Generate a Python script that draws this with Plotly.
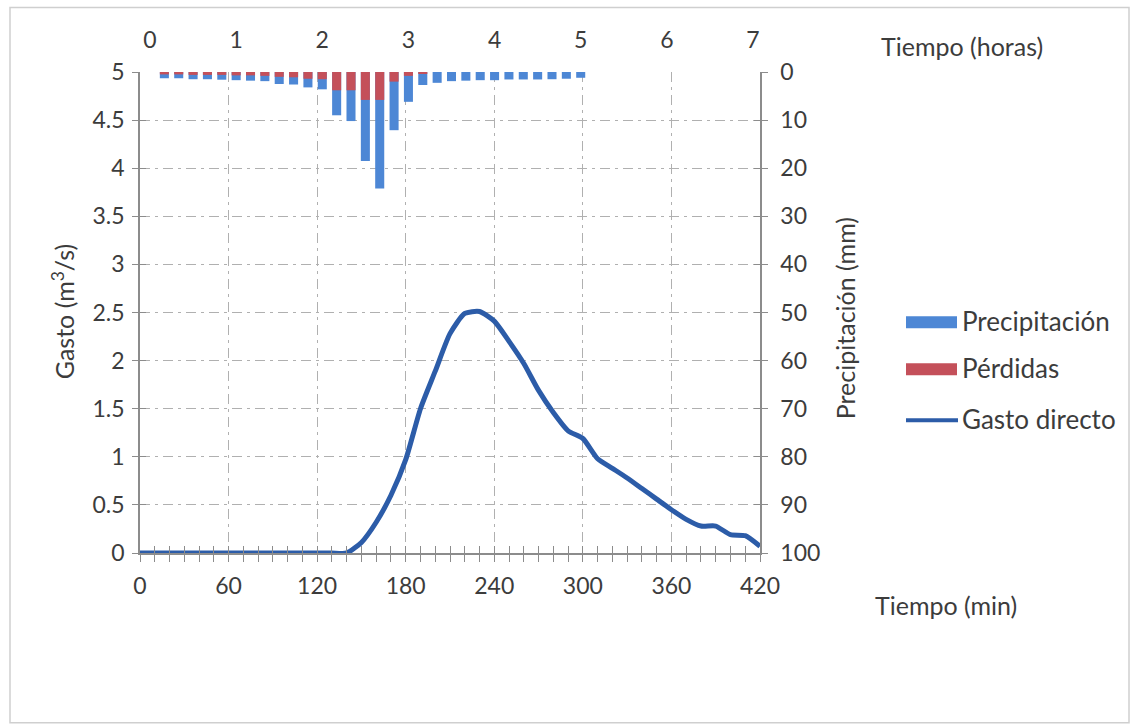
import plotly.graph_objects as go

# ---------------- data ----------------
bar_time_min = [10, 20, 30, 40, 50, 60, 70, 80, 90, 100, 110, 120, 130, 140, 150,
                160, 170, 180, 190, 200, 210, 220, 230, 240, 250, 260, 270, 280, 290, 300]
precipitacion_mm = [1.3, 1.3, 1.5, 1.5, 1.6, 1.7, 1.8, 1.9, 2.5, 2.6, 3.2, 3.6, 9.0, 10.2, 18.5,
                    24.2, 12.1, 6.2, 2.7, 2.25, 1.9, 1.8, 1.7, 1.7, 1.55, 1.55, 1.55, 1.5, 1.4, 1.2]
perdidas_mm = [0.5, 0.5, 0.6, 0.6, 0.6, 0.7, 0.7, 0.8, 1.0, 1.1, 1.4, 1.5, 3.8, 3.8, 5.8,
               5.8, 2.0, 0.8, 0.3, 0, 0, 0, 0, 0, 0, 0, 0, 0, 0, 0]

gasto_time_min = [0, 10, 20, 30, 40, 50, 60, 70, 80, 90, 100, 110, 120, 130, 140,
                  150, 160, 170, 180, 190, 200, 210, 220, 230, 240, 250, 260, 270, 280,
                  290, 300, 310, 320, 330, 340, 350, 360, 370, 380, 390, 400, 410, 420]
gasto_m3s = [0, 0, 0, 0, 0, 0, 0, 0, 0, 0, 0, 0, 0, 0, 0,
             0.11, 0.32, 0.60, 0.97, 1.50, 1.89, 2.28, 2.49, 2.51, 2.41, 2.20, 1.97, 1.69, 1.46,
             1.27, 1.19, 0.98, 0.88, 0.78, 0.67, 0.56, 0.45, 0.35, 0.28, 0.28, 0.19, 0.18, 0.07]

min_ticks = [0, 60, 120, 180, 240, 300, 360, 420]
hour_ticks_min = [0, 60, 120, 180, 240, 300, 360, 420]
hour_labels = ["0", "1", "2", "3", "4", "5", "6", "7"]
gasto_ticks = [0, 0.5, 1, 1.5, 2, 2.5, 3, 3.5, 4, 4.5, 5]
gasto_labels = ["0", "0.5", "1", "1.5", "2", "2.5", "3", "3.5", "4", "4.5", "5"]
precip_ticks = [0, 10, 20, 30, 40, 50, 60, 70, 80, 90, 100]

# ---------------- styles ----------------
FONT = "Lato"
TXT = "#3c3c3c"
AX = "#8c8c8c"
GRID = "#b0b0b0"
GRIDDASH = "10px,5px,3px,5px"
BLUE = "#4D87D5"
RED = "#C4505A"
LINE = "#2C5CA8"

W, H = 1134, 727
L, R, T, B = 140, 760, 71.5, 553


def px(xp):
    return (xp - L) / (R - L)


def py(yp):
    return (B - yp) / (B - T)


fig = go.Figure()

fig.add_trace(go.Bar(x=bar_time_min, y=precipitacion_mm, xaxis="x2", yaxis="y2",
                     marker=dict(color=BLUE, line=dict(width=0)), width=6.3,
                     name="Precipitación", showlegend=False))
fig.add_trace(go.Bar(x=bar_time_min, y=perdidas_mm, xaxis="x2", yaxis="y2",
                     marker=dict(color=RED, line=dict(width=0)), width=6.3,
                     name="Pérdidas", showlegend=False))
fig.add_trace(go.Scatter(x=gasto_time_min, y=gasto_m3s, mode="lines",
                         line=dict(color=LINE, width=5, shape="spline", smoothing=0.6),
                         name="Gasto directo", showlegend=False))
# helper traces for the inner half of the crossing tick marks
fig.add_trace(go.Scatter(x=[0], y=[0], xaxis="x3", yaxis="y3", mode="markers",
                         marker=dict(opacity=0), showlegend=False, hoverinfo="skip"))
fig.add_trace(go.Scatter(x=[0], y=[0], xaxis="x3", yaxis="y4", mode="markers",
                         marker=dict(opacity=0), showlegend=False, hoverinfo="skip"))

tickfont = dict(family=FONT, size=23, color=TXT)

fig.update_layout(
    width=W, height=H,
    margin=dict(l=L, r=W - R, t=T, b=H - B, pad=0),
    paper_bgcolor="white", plot_bgcolor="white",
    barmode="overlay",
    xaxis=dict(range=[0, 420], tickvals=min_ticks, ticktext=[str(v) for v in min_ticks],
               showgrid=True, gridcolor=GRID, griddash=GRIDDASH, gridwidth=1,
               showline=True, linecolor=AX, linewidth=1.5,
               ticks="outside", ticklen=7, tickcolor=AX,
               minor=dict(dtick=10, ticks="outside", ticklen=7, tickcolor=AX, showgrid=False),
               tickfont=tickfont, ticklabelstandoff=5, zeroline=False, mirror=False),
    yaxis=dict(range=[0, 5], tickvals=gasto_ticks, ticktext=gasto_labels,
               showgrid=True, gridcolor=GRID, griddash=GRIDDASH, gridwidth=1,
               showline=True, linecolor=AX, linewidth=1.5,
               ticks="outside", ticklen=6, tickcolor=AX,
               tickfont=tickfont, ticklabelstandoff=3, zeroline=False),
    xaxis2=dict(overlaying="x", side="top", anchor="y",
                range=[-6.97, 424.88], tickvals=hour_ticks_min, ticktext=hour_labels,
                showgrid=False, showline=False, ticks="", zeroline=False,
                tickfont=tickfont, ticklabelstandoff=18),
    yaxis2=dict(overlaying="y", side="right", anchor="x",
                range=[100, 0], tickvals=precip_ticks,
                showgrid=False, showline=True, linecolor=AX, linewidth=1.5,
                ticks="outside", ticklen=6, tickcolor=AX, zeroline=False,
                tickfont=tickfont, ticklabelstandoff=8),
    xaxis3=dict(overlaying="x", side="bottom", anchor="y", range=[0, 420], dtick=10,
                ticks="inside", ticklen=7, tickcolor=AX, showticklabels=False,
                showgrid=False, showline=False, zeroline=False),
    yaxis3=dict(overlaying="y", side="left", anchor="x", range=[0, 5], dtick=0.5,
                ticks="inside", ticklen=6, tickcolor=AX, showticklabels=False,
                showgrid=False, showline=False, zeroline=False),
    yaxis4=dict(overlaying="y", side="right", anchor="x", range=[100, 0], dtick=10,
                ticks="inside", ticklen=6, tickcolor=AX, showticklabels=False,
                showgrid=False, showline=False, zeroline=False),
)

ann_font = dict(family=FONT, size=25, color=TXT)
annotations = [
    dict(text="Gasto (m<sup>3</sup>/s)", x=px(63), y=py(312), textangle=-90),
    dict(text="Precipitación (mm)", x=px(845), y=py(318), textangle=-90),
    dict(text="Tiempo (horas)", x=px(962), y=py(45)),
    dict(text="Tiempo (min)", x=px(946), y=py(605)),
]
for a in annotations:
    fig.add_annotation(xref="paper", yref="paper", showarrow=False,
                       xanchor="center", yanchor="middle", font=ann_font, **a)

# legend drawn by hand to match the wide rectangular keys
leg_font = dict(family=FONT, size=26, color=TXT)
legend_items = [("Precipitación", BLUE, "rect", 322), ("Pérdidas", RED, "rect", 369),
                ("Gasto directo", LINE, "line", 420)]
for label, col, kind, yc in legend_items:
    if kind == "rect":
        fig.add_shape(type="rect", xref="paper", yref="paper",
                      x0=px(906), x1=px(957), y0=py(yc - 6), y1=py(yc + 6),
                      fillcolor=col, line=dict(width=0))
    else:
        fig.add_shape(type="line", xref="paper", yref="paper",
                      x0=px(906), x1=px(958), y0=py(yc), y1=py(yc),
                      line=dict(color=col, width=4))
    fig.add_annotation(xref="paper", yref="paper", showarrow=False, text=label,
                       x=px(960), y=py(yc - 1), xanchor="left", yanchor="middle", font=leg_font)

# outer frame
fig.add_shape(type="rect", xref="paper", yref="paper",
              x0=px(10), x1=px(1129), y0=py(7), y1=py(723),
              line=dict(color="#cfcfcf", width=1.5), fillcolor="rgba(0,0,0,0)", layer="below")

fig.write_html("out.html", config={"displayModeBar": False},
               post_script="document.body.style.margin='0px';")
